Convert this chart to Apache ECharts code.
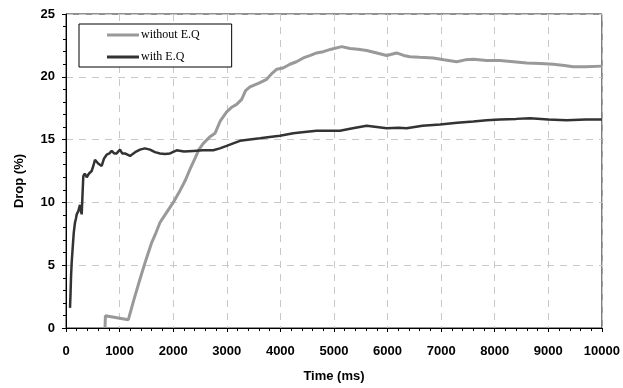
<!DOCTYPE html>
<html><head><meta charset="utf-8">
<script src="https://cdn.jsdelivr.net/npm/echarts@6/dist/echarts.min.js"></script>
<style>html,body{margin:0;padding:0;background:#fff}#c{width:623px;height:388px}</style>
</head><body><div id="c"></div>
<script>
const xTicks = [0,1000,2000,3000,4000,5000,6000,7000,8000,9000,10000];
const yTicks = [0,5,10,15,20,25];
const withoutEQ = [
 [728,0],[735,0.98],[1163,0.66],[1270,2.3],[1381,3.9],[1490,5.4],[1599,6.8],[1680,7.6],[1754,8.4],[1878,9.2],[2002,10.0],
 [2110,10.8],[2220,11.7],[2310,12.6],[2407,13.5],[2480,14.2],[2562,14.7],[2680,15.2],[2780,15.5],[2880,16.5],[2998,17.2],[3100,17.6],
 [3184,17.8],[3278,18.2],[3350,18.9],[3433,19.2],[3600,19.5],[3744,19.8],[3850,20.3],[3930,20.6],[4050,20.7],[4179,21.0],[4300,21.2],[4428,21.5],
 [4560,21.7],[4677,21.9],[4800,22.0],[4950,22.2],[5143,22.4],[5300,22.25],[5450,22.2],[5610,22.1],[5800,21.9],[5983,21.7],
 [6169,21.9],[6300,21.7],[6418,21.6],[6600,21.55],[6853,21.5],[7050,21.35],[7289,21.2],[7450,21.35],[7600,21.4],[7850,21.3],
 [8097,21.3],[8350,21.2],[8595,21.1],[8850,21.05],[9092,21.0],[9300,20.9],[9465,20.8],[9700,20.8],[10000,20.85]
];
const withEQ = [
 [75,1.6],[85,2.8],[95,4.2],[106,5.2],[125,6.4],[145,7.6],[168,8.4],[185,8.7],[200,9.05],[230,9.3],[261,9.8],[275,9.4],
 [293,9.05],[310,10.8],[323,12.1],[350,12.3],[386,12.0],[430,12.3],[479,12.5],[510,12.9],[541,13.4],[600,13.1],[666,12.9],
 [710,13.5],[759,13.8],[810,13.9],[852,14.1],[900,13.9],[945,13.9],[1007,14.2],[1050,13.9],[1100,13.9],[1194,13.7],[1290,14.0],
 [1381,14.2],[1470,14.3],[1567,14.2],[1660,14.0],[1754,13.9],[1850,13.85],[1940,13.9],[2065,14.15],[2200,14.05],[2375,14.1],
 [2550,14.15],[2748,14.15],[2870,14.3],[2998,14.5],[3120,14.7],[3246,14.9],[3430,15.0],[3619,15.1],[3800,15.2],[3993,15.3],
 [4241,15.5],[4450,15.6],[4677,15.7],[4900,15.7],[5112,15.7],[5350,15.9],[5610,16.1],[5800,16.0],[5983,15.9],[6200,15.95],
 [6356,15.9],[6650,16.1],[6978,16.2],[7300,16.35],[7600,16.45],[7850,16.55],[8097,16.6],[8400,16.65],[8657,16.7],[9000,16.6],
 [9341,16.55],[9700,16.6],[10000,16.6]
];
const chart = echarts.init(document.getElementById('c'), null, {renderer:'canvas'});
const lab = {color:'#000', fontFamily:'Liberation Sans, Arial, sans-serif', fontWeight:'bold', fontSize:13};
chart.setOption({
  animation:false,
  grid:{left:66, right:21, top:14, bottom:59, show:true, borderColor:'#222', borderWidth:1},
  legend:{
    left:79, top:24, orient:'vertical', itemGap:10, padding:[5,32,4,28],
    borderColor:'#000', borderWidth:1, backgroundColor:'#fff',
    icon:'rect', itemWidth:32, itemHeight:3,
    textStyle:{fontFamily:'Liberation Serif, Times New Roman, serif', fontSize:12, color:'#000', padding:[0,0,0,-3]},
    data:['without E.Q','with E.Q']
  },
  xAxis:{
    type:'value', min:0, max:10000, interval:1000,
    name:'Time (ms)', nameLocation:'middle', nameGap:42, nameTextStyle:lab,
    axisLine:{lineStyle:{color:'#000', width:1}},
    axisTick:{length:4, lineStyle:{color:'#000'}},
    minorTick:{show:true, splitNumber:5, length:3, lineStyle:{color:'#000'}},
    axisLabel:Object.assign({margin:17}, lab, {formatter:v=>xTicks.includes(v)?String(v):''}),
    splitLine:{show:true, lineStyle:{color:'#c8c8c8', type:[7,6], width:1}}
  },
  yAxis:{
    type:'value', min:0, max:25, interval:5,
    name:'Drop (%)', nameLocation:'middle', nameGap:40, nameTextStyle:Object.assign({}, lab, {padding:[0,20,0,0]}),
    axisLine:{show:true, lineStyle:{color:'#000', width:1}},
    axisTick:{show:true, length:4, lineStyle:{color:'#000'}},
    minorTick:{show:true, splitNumber:5, length:3, lineStyle:{color:'#000'}},
    axisLabel:Object.assign({margin:11}, lab, {formatter:v=>yTicks.includes(v)?String(v):''}),
    splitLine:{show:true, lineStyle:{color:'#c8c8c8', type:[7,6], width:1}}
  },
  series:[
    {name:'without E.Q', type:'line', data:withoutEQ, showSymbol:false, symbol:'none', color:'#999999', lineStyle:{color:'#999999', width:3}, z:3},
    {name:'with E.Q', type:'line', data:withEQ, showSymbol:false, symbol:'none', color:'#333333', lineStyle:{color:'#333333', width:2.5}, z:4}
  ]
});
</script></body></html>
